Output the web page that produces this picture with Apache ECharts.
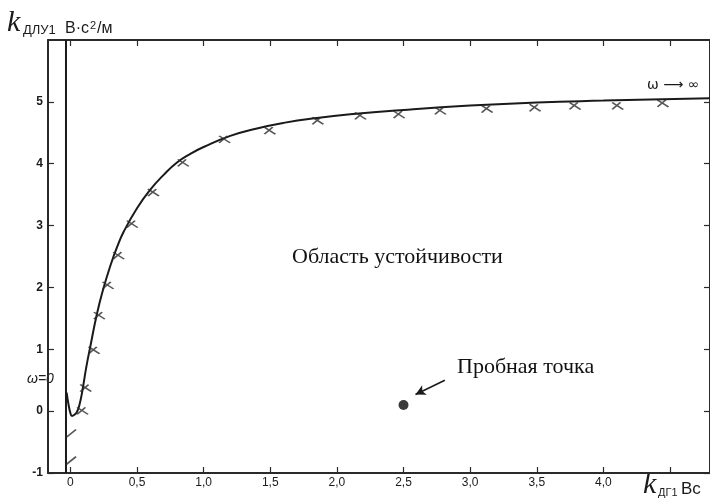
<!DOCTYPE html>
<html>
<head>
<meta charset="utf-8">
<script src="https://cdn.jsdelivr.net/npm/echarts@6/dist/echarts.min.js"></script>
<style>
  html, body { margin: 0; padding: 0; background: #fff; }
  #chart { width: 710px; height: 502px; }
</style>
</head>
<body>
<div id="chart"></div>
<script>
// ---- data ----
const xTickValues = [0, 0.5, 1.0, 1.5, 2.0, 2.5, 3.0, 3.5, 4.0, 4.5];
const xLabelValues = [0, 0.5, 1.0, 1.5, 2.0, 2.5, 3.0, 3.5, 4.0];
const yTickValues = [-1, 0, 1, 2, 3, 4, 5];

// D-partition boundary curve
const curveX = [-0.028, -0.015, 0.0, 0.012, 0.03, 0.05, 0.07, 0.09, 0.12, 0.15, 0.2, 0.25, 0.3, 0.35, 0.4, 0.5, 0.6, 0.7, 0.8, 0.9, 1.0, 1.2, 1.4, 1.6, 1.85, 2.1, 2.5, 3.0, 3.5, 4.0, 4.8];
const curveY = [0.30, 0.12, -0.03, -0.08, -0.06, -0.01, 0.12, 0.33, 0.72, 1.05, 1.58, 2.0, 2.35, 2.65, 2.9, 3.28, 3.58, 3.82, 4.02, 4.16, 4.27, 4.45, 4.57, 4.66, 4.74, 4.80, 4.87, 4.94, 4.99, 5.02, 5.06];

// hatch marks along the curve
const hatchX = [0.084, 0.108, 0.17, 0.21, 0.275, 0.355, 0.457, 0.616, 0.84, 1.15, 1.49, 1.85, 2.17, 2.46, 2.77, 3.12, 3.48, 3.78, 4.10, 4.44];
const hatchY = [0.02, 0.39, 1.0, 1.56, 2.05, 2.53, 3.04, 3.55, 4.03, 4.41, 4.55, 4.71, 4.79, 4.81, 4.87, 4.90, 4.92, 4.95, 4.95, 4.99];

// vertical boundary line (omega = 0 line) and its hatch marks
const vertLineX = [-0.033, -0.033];
const vertLineY = [-1, 6];
const vertHatchX = [0.005, 0.005];
const vertHatchY = [-0.36, -0.8];

// test point and arrow
const testPoint = [2.5, 0.1];
const arrowFrom = [2.81, 0.5];
const arrowTo = [2.59, 0.27];

// axis ranges
const xMin = -0.168, xMax = 4.80;
const yMin = -1, yMax = 6;

const zip = (a, b) => a.map((v, i) => [v, b[i]]);
const fmtX = v => (v === 0 ? '0' : v.toFixed(1).replace('.', ','));

const chart = echarts.init(document.getElementById('chart'), null, { renderer: 'canvas' });
const frame = { lineStyle: { color: '#2a2a2a', width: 2 } };
const tickStyle = { inside: true, length: 6, lineStyle: { color: '#2a2a2a', width: 1.2 } };
const labelFont = { color: '#1a1a1a', fontSize: 12, fontFamily: '"Liberation Sans", Arial' };

const option = {
  animation: false,
  backgroundColor: '#fff',
  grid: { left: 48, top: 40, bottom: 29, right: -4, containLabel: false },
  xAxis: [
    {
      type: 'value', min: xMin, max: xMax, position: 'bottom',
      axisLine: Object.assign({ show: true, onZero: false }, frame),
      axisTick: Object.assign({ show: true, customValues: xTickValues }, tickStyle),
      axisLabel: Object.assign({ show: true, customValues: xLabelValues, formatter: fmtX, margin: 4 }, labelFont),
      splitLine: { show: false }
    },
    {
      type: 'value', min: xMin, max: xMax, position: 'top',
      axisLine: Object.assign({ show: true, onZero: false }, frame),
      axisTick: Object.assign({ show: true, customValues: xTickValues }, tickStyle),
      axisLabel: { show: false },
      splitLine: { show: false }
    }
  ],
  yAxis: [
    {
      type: 'value', min: yMin, max: yMax, position: 'left',
      axisLine: Object.assign({ show: true, onZero: false }, frame),
      axisTick: Object.assign({ show: true, customValues: yTickValues }, tickStyle),
      axisLabel: Object.assign({ show: true, customValues: yTickValues, margin: 5, fontWeight: 'bold' }, labelFont),
      splitLine: { show: false }
    },
    {
      type: 'value', min: yMin, max: yMax, position: 'right',
      axisLine: Object.assign({ show: true, onZero: false }, frame),
      axisTick: Object.assign({ show: true, customValues: yTickValues }, tickStyle),
      axisLabel: { show: false },
      splitLine: { show: false }
    }
  ],
  series: [
    {
      type: 'line', name: 'vertical', data: zip(vertLineX, vertLineY),
      symbol: 'none', lineStyle: { color: '#1a1a1a', width: 2 }, z: 3
    },
    {
      type: 'line', name: 'curve', data: zip(curveX, curveY),
      symbol: 'none', smooth: 0.5,
      lineStyle: { color: '#1a1a1a', width: 2 }, z: 3
    },
    {
      type: 'scatter', name: 'hatch', data: zip(hatchX, hatchY),
      symbol: 'path://M0,0L12,9M0,9L9,0', symbolSize: [11, 7], symbolOffset: [1, 1],
      itemStyle: { color: 'none', borderColor: '#2a2a2a', borderWidth: 1.6 }, z: 4
    },
    {
      type: 'scatter', name: 'vhatch', data: zip(vertHatchX, vertHatchY),
      symbol: 'path://M0,8L10,0', symbolSize: [10, 8],
      itemStyle: { color: 'none', borderColor: '#2a2a2a', borderWidth: 1.6 }, z: 4
    },
    {
      type: 'scatter', name: 'test', data: [testPoint],
      symbol: 'circle', symbolSize: 10,
      itemStyle: { color: '#0a0a0a' }, z: 5,
      markLine: {
        silent: true, symbol: ['none', 'arrow'], symbolSize: [8, 10],
        label: { show: false },
        lineStyle: { color: '#1a1a1a', width: 1.6, type: 'solid' },
        data: [[{ coord: arrowFrom }, { coord: arrowTo }]]
      }
    }
  ],
  graphic: [
    // y axis name
    { type: 'text', left: 7, top: 8, style: { text: 'k', font: 'italic 30px "Liberation Serif", serif', fill: '#1a1a1a' } },
    { type: 'text', left: 23, top: 24, style: { text: 'ДЛУ1', font: '13px "Liberation Sans", Arial', fill: '#1a1a1a' } },
    { type: 'text', left: 65, top: 20, style: {
        text: 'В·с{sup|2}/м', font: '16px "Liberation Sans", Arial', fill: '#1a1a1a',
        rich: { sup: { fontSize: 11, fontFamily: '"Liberation Sans", Arial', verticalAlign: 'top', padding: [0, 1, 7, 1] } }
    } },
    // x axis name
    { type: 'text', left: 643, top: 470, style: { text: 'k', font: 'italic 30px "Liberation Serif", serif', fill: '#1a1a1a' } },
    { type: 'text', left: 658, top: 487, style: { text: 'ДГ1', font: '11px "Liberation Sans", Arial', fill: '#1a1a1a' } },
    { type: 'text', left: 681, top: 481, style: { text: 'Вс', font: '17px "Liberation Sans", Arial', fill: '#1a1a1a' } },
    // annotations
    { type: 'text', left: 27, top: 372, style: { text: 'ω=0', font: 'italic 14px "Liberation Sans", Arial', fill: '#1a1a1a' } },
    { type: 'text', left: 647, top: 78, style: { text: 'ω ⟶ ∞', font: '14px "DejaVu Sans", sans-serif', fill: '#1a1a1a' } },
    { type: 'text', left: 292, top: 246, style: { text: 'Область устойчивости', font: '22px "Liberation Serif", serif', fill: '#111' } },
    { type: 'text', left: 457, top: 356, style: { text: 'Пробная точка', font: '22px "Liberation Serif", serif', fill: '#111' } }
  ]
};
chart.setOption(option);
</script>
</body>
</html>
